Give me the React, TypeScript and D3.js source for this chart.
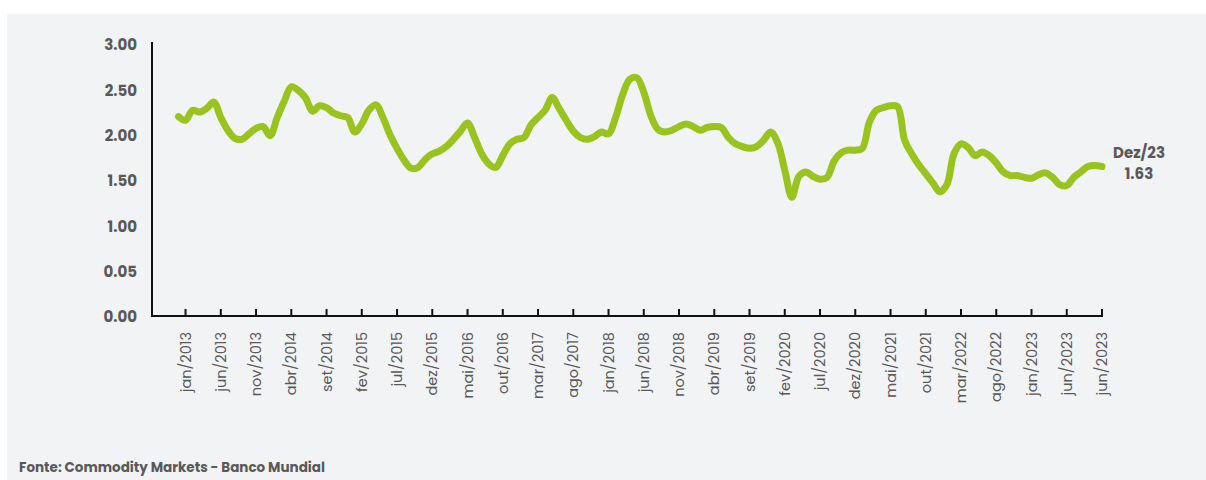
import React from 'react';
import * as d3 from 'd3';

// monthly values, jan/2013 .. dez/2023
const values: number[] = [
  2.21, 2.17, 2.28, 2.26, 2.30, 2.37, 2.20, 2.06, 1.97, 1.96, 2.02, 2.08,
  2.10, 2.00, 2.20, 2.38, 2.54, 2.50, 2.42, 2.27, 2.33, 2.31, 2.25, 2.22,
  2.20, 2.04, 2.13, 2.28, 2.34, 2.20, 2.01, 1.86, 1.73, 1.64, 1.65, 1.74,
  1.80, 1.83, 1.88, 1.96, 2.05, 2.14, 1.98, 1.80, 1.69, 1.65, 1.78, 1.91,
  1.96, 1.98, 2.12, 2.20, 2.28, 2.42, 2.30, 2.17, 2.05, 1.98, 1.96, 1.99,
  2.04, 2.02, 2.20, 2.45, 2.62, 2.64, 2.48, 2.22, 2.07, 2.04, 2.06, 2.10,
  2.13, 2.10, 2.06, 2.09, 2.10, 2.09, 1.98, 1.91, 1.88, 1.86, 1.88, 1.95,
  2.04, 1.92, 1.62, 1.32, 1.55, 1.60, 1.55, 1.52, 1.54, 1.72, 1.81, 1.84,
  1.84, 1.86, 2.15, 2.28, 2.31, 2.33, 2.32, 1.95, 1.80, 1.68, 1.58, 1.48,
  1.38, 1.46, 1.80, 1.91, 1.87, 1.78, 1.82, 1.78, 1.70, 1.60, 1.56, 1.56,
  1.54, 1.53, 1.57, 1.59, 1.54, 1.46, 1.45, 1.54, 1.60, 1.66, 1.67, 1.66,
];

const tickLabels: string[] = [
  'jan/2013', 'jun/2013', 'nov/2013', 'abr/2014', 'set/2014', 'fev/2015',
  'jul/2015', 'dez/2015', 'mai/2016', 'out/2016', 'mar/2017', 'ago/2017',
  'jan/2018', 'jun/2018', 'nov/2018', 'abr/2019', 'set/2019', 'fev/2020',
  'jul/2020', 'dez/2020', 'mai/2021', 'out/2021', 'mar/2022', 'ago/2022',
  'jan/2023', 'jun/2023', 'jun/2023',
];

const yTicks: number[] = [0, 0.5, 1, 1.5, 2, 2.5, 3];
const yTickText: string[] = ['0.00', '0.05', '1.00', '1.50', '2.00', '2.50', '3.00'];

const lastLabel = 'Dez/23';
const lastValue = '1.63';

const W = 1206;
const H = 480;
const font = "Poppins, 'Open Sans', sans-serif";
const grey = '#595959';

const App = () => {
  const x = d3.scaleLinear().domain([0, values.length - 1]).range([178.5, 1102]);
  const y = d3.scaleLinear().domain([0, 3]).range([317, 45]);

  const line = d3.line<number>()
    .x((d, i) => x(i))
    .y(d => y(d))
    .curve(d3.curveCatmullRom.alpha(0.5));

  // ticks every 5 months, first one on the second month
  const tickIdx = tickLabels.map((_, k) => 1 + k * 5);
  const axisY = 316;

  return (
    <div style={{ position: 'absolute', left: 0, top: 0 }}>
      <svg width={W} height={H} style={{ display: 'block' }}>
        <rect x={0} y={0} width={W} height={H} fill="#ffffff" />
        <rect x={7} y={14} width={W - 7} height={H - 14} fill="#f2f3f5" />

        {/* y axis labels */}
        {yTicks.map((t, i) => (
          <text key={i} x={137} y={y(t)} dy="0.35em" textAnchor="end"
            fontFamily={font} fontWeight={700} fontSize={15} fill={grey}>
            {yTickText[i]}
          </text>
        ))}

        {/* axes */}
        <line x1={152} x2={152} y1={42} y2={axisY + 1} stroke="#111" strokeWidth={2} />
        <line x1={151} x2={x(values.length - 1) + 1} y1={axisY} y2={axisY} stroke="#111" strokeWidth={2} />
        {tickIdx.map((ti, k) => (
          <line key={k} x1={x(ti)} x2={x(ti)} y1={axisY - 7} y2={axisY} stroke="#111" strokeWidth={2} />
        ))}

        {/* x labels */}
        {tickIdx.map((ti, k) => (
          <text key={k} transform={`translate(${x(ti)},${332}) rotate(-90)`}
            dy="0.35em" textAnchor="end" fontFamily={font} fontSize={14.5} fill={grey}>
            {tickLabels[k]}
          </text>
        ))}

        {/* series */}
        <path d={line(values) || ''} fill="none" stroke="#99c31f" strokeWidth={7}
          strokeLinecap="round" strokeLinejoin="round" />

        {/* last value label */}
        <text x={1139} y={153} dy="0.35em" textAnchor="middle" fontFamily={font}
          fontWeight={700} fontSize={15} fill={grey}>{lastLabel}</text>
        <text x={1139} y={174} dy="0.35em" textAnchor="middle" fontFamily={font}
          fontWeight={700} fontSize={15} fill={grey}>{lastValue}</text>

        <text x={19} y={467} dy="0.35em" fontFamily={font} fontWeight={700}
          fontSize={13.5} fill={grey}>Fonte: Commodity Markets - Banco Mundial</text>
      </svg>
    </div>
  );
};

export default App;
